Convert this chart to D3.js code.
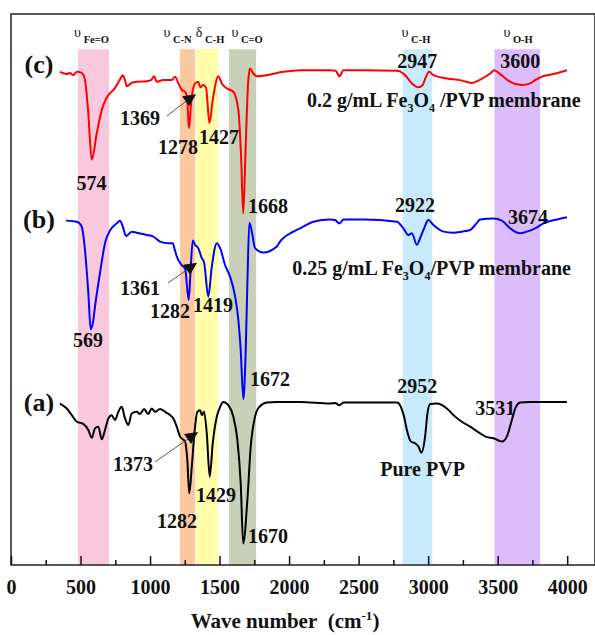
<!DOCTYPE html>
<html>
<head>
<meta charset="utf-8">
<script src="https://cdnjs.cloudflare.com/ajax/libs/d3/7.8.5/d3.min.js"></script>
<style>
body { margin: 0; background: #fff; }
text { font-family: "Times New Roman", "Liberation Serif", serif; font-weight: bold; fill: #111; }
</style>
</head>
<body>
<div id="ftirDiv"></div>
<script>
// FTIR spectra, [wave number (cm-1), transmittance (a.u.)]
var specA = [[352,29.3],[401,28.4],[437,27.2],[473,26.0],[520,25.6],[556,24.5],[581,23.1],[604,24.8],[628,25.1],[653,22.8],[676,24.5],[700,26.6],[724,27.2],[748,26.3],[772,27.8],[796,28.7],[820,26.6],[844,25.4],[868,27.5],[904,27.8],[928,27.4],[957,28.3],[986,27.4],[1012,28.4],[1036,27.8],[1072,28.3],[1120,27.6],[1144,27.2],[1168,26.6],[1192,25.1],[1216,23.3],[1252,22.4],[1268,19.1],[1282,13.0],[1300,17.8],[1319,23.9],[1340,27.8],[1360,28.1],[1372,27.2],[1388,27.8],[1408,23.9],[1429,16.0],[1451,22.1],[1480,26.9],[1504,28.7],[1527,29.6],[1563,29.0],[1599,26.9],[1628,22.7],[1652,14.8],[1670,3.9],[1700,11.8],[1724,21.5],[1755,26.9],[1786,28.7],[1840,29.5],[1911,29.6],[2079,29.6],[2295,29.3],[2331,29.4],[2362,29.0],[2391,29.5],[2775,29.5],[2804,28.7],[2827,26.9],[2847,24.5],[2876,22.4],[2906,22.1],[2930,21.5],[2952,20.4],[2978,23.3],[2995,27.5],[3014,29.2],[3063,29.3],[3135,28.4],[3182,27.2],[3242,26.0],[3302,25.1],[3374,23.9],[3422,23.2],[3470,23.0],[3506,22.6],[3531,22.4],[3566,23.3],[3602,26.3],[3626,28.4],[3662,29.5],[3734,29.6],[3998,29.6]];

var specB = [[396,62.5],[473,62.3],[509,61.4],[532,57.2],[556,49.4],[573,42.8],[590,44.1],[604,46.9],[640,53.0],[676,58.4],[712,60.7],[760,62.0],[784,62.5],[804,61.4],[827,59.7],[868,60.5],[904,60.3],[976,59.9],[1024,59.6],[1072,58.7],[1132,58.4],[1163,58.4],[1175,57.5],[1192,56.0],[1228,54.4],[1252,53.8],[1278,48.1],[1293,54.1],[1307,58.9],[1324,58.1],[1347,57.5],[1372,55.7],[1388,55.0],[1419,48.7],[1444,54.1],[1480,58.4],[1504,57.5],[1540,54.4],[1576,52.3],[1612,48.7],[1635,44.5],[1652,39.0],[1671,30.1],[1688,39.0],[1700,51.1],[1714,62.1],[1732,60.5],[1755,57.5],[1815,56.7],[1911,57.8],[1935,58.7],[2031,60.5],[2079,61.1],[2175,62.3],[2295,62.7],[2331,62.6],[2362,62.0],[2391,62.7],[2535,62.7],[2775,62.3],[2822,61.1],[2858,59.9],[2883,60.2],[2919,58.1],[2942,59.3],[2971,61.1],[3002,62.6],[3038,61.7],[3110,60.5],[3182,60.3],[3242,60.5],[3302,60.8],[3338,61.7],[3374,62.7],[3470,62.9],[3530,62.5],[3590,61.1],[3662,60.2],[3710,60.5],[3770,61.1],[3829,62.0],[3926,62.7],[3998,63.1]];

var specC = [[352,89.5],[401,89.1],[424,89.3],[446,88.9],[475,89.5],[509,89.3],[532,88.0],[554,82.6],[581,73.6],[617,78.4],[653,82.6],[688,84.8],[748,86.6],[784,88.1],[804,88.9],[820,88.0],[832,86.9],[868,87.5],[904,87.7],[976,87.8],[1007,88.0],[1029,88.7],[1048,87.7],[1094,88.0],[1156,88.0],[1180,88.6],[1204,87.4],[1228,86.2],[1252,85.9],[1266,85.0],[1280,79.3],[1298,84.6],[1324,87.4],[1347,87.7],[1360,86.7],[1383,87.1],[1403,86.6],[1427,80.2],[1451,84.4],[1491,88.7],[1516,87.4],[1552,86.5],[1599,85.9],[1635,82.6],[1655,74.0],[1670,63.8],[1688,76.0],[1705,87.4],[1719,90.1],[1743,89.2],[1768,88.7],[1840,88.9],[1959,89.5],[2079,89.8],[2295,89.8],[2335,89.7],[2362,88.7],[2391,89.8],[2535,89.8],[2775,89.7],[2835,88.9],[2883,87.4],[2930,86.7],[2960,87.1],[2983,88.5],[3007,89.5],[3038,88.9],[3135,88.3],[3230,88.0],[3314,87.5],[3374,88.1],[3446,89.2],[3475,89.8],[3518,89.1],[3590,87.7],[3674,87.1],[3734,87.4],[3770,88.0],[3806,88.5],[3901,89.1],[3998,89.8]];

// shaded assignment bands (cm-1)
var bandSymbol = ["\u03c5", "\u03c5", "\u03b4", "\u03c5", "\u03c5", "\u03c5"];
var bandGroup  = ["Fe=O", "C-N", "C-H", "C=O", "C-H", "O-H"];
var bandFrom   = [482, 1216, 1331, 1568, 2817, 3477];
var bandTo     = [705, 1324, 1489, 1763, 3030, 3806];
var bandLabelAt = [579, 1198, 1432, 1698, 2912, 3647];
var bandTop = 93.6;

// peak labels: text, wave number, transmittance of the label baseline
var peaksC = [["574",579,68.1],["1369",928,79.9],["1278",1201,74.6],["1427",1496,76.4],["1668",1849,63.9],["2947",2921,90.2],["3600",3662,90.2]];
var peaksB = [["569",554,39.6],["1361",928,49.0],["1282",1144,44.8],["1419",1453,45.9],["1672",1863,32.5],["2922",2906,64.1],["3674",3719,61.9]];
var peaksA = [["1373",878,17.1],["1282",1194,6.7],["1429",1475,11.4],["1670",1849,4.0],["2952",2921,31.2],["3531",3482,27.2]];

// arrows: [tail wave, tail value, head wave, head value]
var arrows = [[1122,81.5,1281,84.9],[1129,51.2,1288,54.3],[1036,18.7,1295,23.6]];

var seriesTags = ["(c)", "(b)", "(a)"];
var seriesTagVal = [89.3, 61.2, 27.9];

var majorTicks = [0, 500, 1000, 1500, 2000, 2500, 3000, 3500, 4000];
var minorTicks = [250, 750, 1250, 1750, 2250, 2750, 3250, 3750];

var bandColor = ["#fac8dc", "#fcc8a0", "#fffcaa", "#c8d0b8", "#c8eafc", "#dcbcfa"];

var svg = d3.select("#ftirDiv").append("svg").attr("width", 595).attr("height", 635);

var x = d3.scaleLinear().domain([0, 4200]).range([11, 595]);
var y = d3.scaleLinear().domain([0, 100]).range([565, 14]);

// bands
svg.selectAll(".band")
  .data(bandGroup)
  .enter().append("rect")
  .attr("class", "band")
  .attr("x", function (d, i) { return x(bandFrom[i]); })
  .attr("width", function (d, i) { return x(bandTo[i]) - x(bandFrom[i]); })
  .attr("y", y(bandTop))
  .attr("height", y(0) - y(bandTop))
  .attr("fill", function (d, i) { return bandColor[i]; });

var bandLabel = svg.selectAll(".bandLabel")
  .data(bandGroup)
  .enter().append("text")
  .attr("class", "bandLabel")
  .attr("x", function (d, i) { return x(bandLabelAt[i]); })
  .attr("y", y(95.8))
  .style("text-anchor", "middle");
bandLabel.append("tspan")
  .style("font-size", "14px")
  .style("font-weight", "normal")
  .text(function (d, i) { return bandSymbol[i]; });
bandLabel.append("tspan")
  .attr("dy", 6)
  .style("font-size", "10.5px")
  .text(function (d) { return "\u00a0" + d; });

// spectra
var line = d3.line()
  .x(function (d) { return x(d[0]); })
  .y(function (d) { return y(d[1]); })
  .curve(d3.curveMonotoneX);

var spectra = [[specA, "#000000"], [specB, "#0000ff"], [specC, "#ff0000"]];
spectra.forEach(function (s) {
  svg.append("path")
    .datum(s[0])
    .attr("d", line)
    .attr("fill", "none")
    .attr("stroke", s[1])
    .attr("stroke-width", 2)
    .attr("stroke-linejoin", "round");
});

// frame
svg.append("rect")
  .attr("x", x(0)).attr("y", y(100))
  .attr("width", x(4200) - x(0)).attr("height", y(0) - y(100))
  .attr("fill", "none").attr("stroke", "#222").attr("stroke-width", 1.5);

// axis with inward ticks
var xAxis = svg.append("g")
  .attr("transform", "translate(0," + y(0) + ")")
  .call(d3.axisBottom(x).tickValues(majorTicks).tickSize(-9).tickPadding(15).tickFormat(d3.format("d")));
xAxis.select(".domain").remove();
xAxis.selectAll("line").attr("stroke", "#111").attr("stroke-width", 1.5);
xAxis.selectAll("text")
  .attr("font-family", null)
  .style("font-size", "20px")
  .attr("fill", "#111");

var xMinor = svg.append("g")
  .attr("transform", "translate(0," + y(0) + ")")
  .call(d3.axisBottom(x).tickValues(minorTicks).tickSize(-5).tickFormat(""));
xMinor.select(".domain").remove();
xMinor.selectAll("line").attr("stroke", "#111").attr("stroke-width", 1.5);

var title = svg.append("text")
  .attr("x", 285)
  .attr("y", 628)
  .style("text-anchor", "middle")
  .style("font-size", "21px");
title.append("tspan").text("Wave number\u00a0\u00a0(cm");
title.append("tspan").attr("dy", -8).style("font-size", "13px").text("-1");
title.append("tspan").attr("dy", 8).text(")");

// peak numbers
[peaksC, peaksB, peaksA].forEach(function (pk) {
  svg.selectAll(null)
    .data(pk)
    .enter().append("text")
    .attr("x", function (d) { return x(d[1]); })
    .attr("y", function (d) { return y(d[2]); })
    .style("text-anchor", "middle")
    .style("font-size", "20px")
    .text(function (d) { return d[0]; });
});

// arrows to the 13xx shoulders
arrows.forEach(function (a) {
  var hx = x(a[2]), hy = y(a[3]);
  svg.append("line")
    .attr("x1", x(a[0])).attr("y1", y(a[1]))
    .attr("x2", hx - 3).attr("y2", hy + 4)
    .attr("stroke", "#555").attr("stroke-width", 1);
  svg.append("path")
    .attr("d", "M" + (hx - 7) + "," + (hy - 1) + "L" + (hx + 7) + "," + (hy - 3) + "L" + hx + "," + (hy + 9) + "Z")
    .attr("fill", "#111");
});

// series tags
svg.selectAll(".tag")
  .data(seriesTags)
  .enter().append("text")
  .attr("class", "tag")
  .attr("x", x(201))
  .attr("y", function (d, i) { return y(seriesTagVal[i]); })
  .style("text-anchor", "middle")
  .style("font-size", "26px")
  .text(function (d) { return d; });

// sample names
function sampleLabel(cx, v, conc, gap) {
  var t = svg.append("text")
    .attr("x", x(cx)).attr("y", y(v))
    .style("text-anchor", "middle")
    .style("font-size", "20px");
  t.append("tspan").text(conc + " g/mL Fe");
  t.append("tspan").attr("dy", 5).style("font-size", "12px").text("3");
  t.append("tspan").attr("dy", -5).text("O");
  t.append("tspan").attr("dy", 5).style("font-size", "12px").text("4");
  t.append("tspan").attr("dy", -5).text(gap + "/PVP membrane");
}
sampleLabel(3112, 83.1, "0.2", "\u00a0");
sampleLabel(3025, 52.6, "0.25", "");

svg.append("text")
  .attr("x", x(2960)).attr("y", y(16.2))
  .style("text-anchor", "middle")
  .style("font-size", "20px")
  .text("Pure PVP");
</script>
</body>
</html>
